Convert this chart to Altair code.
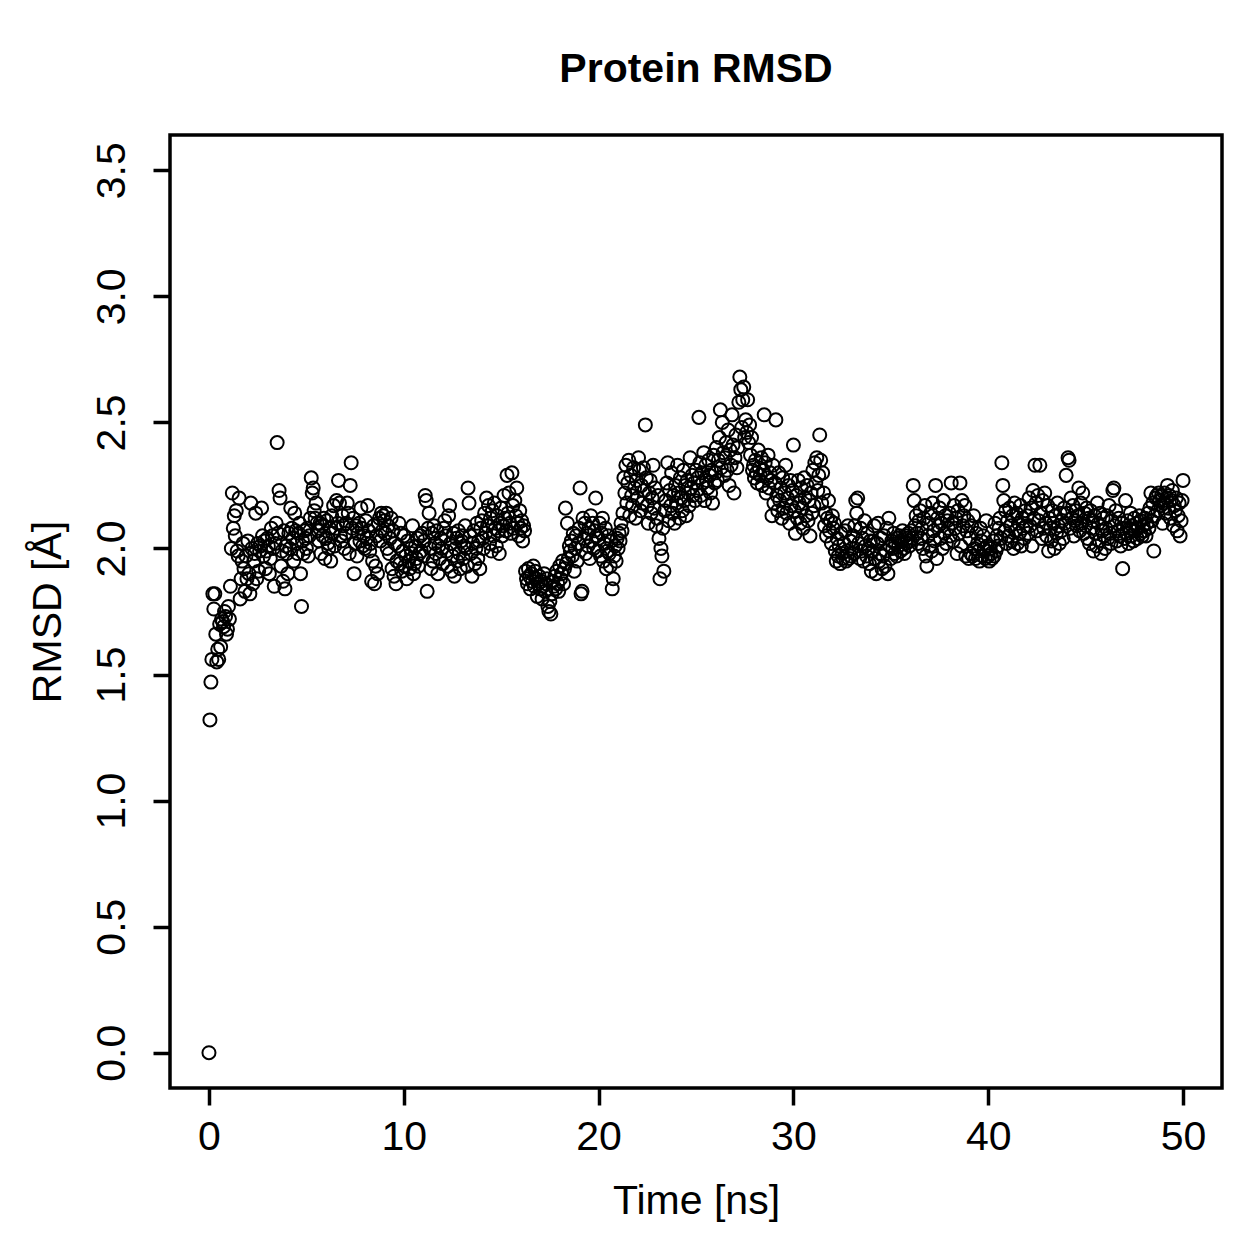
import altair as alt
import pandas as pd

# Trajectory frames are written every 0.05 ns
FRAME_NS = 0.05

# Backbone RMSD (Å), one row per nanosecond (20 frames each)
rmsd_00_10 = [
    0.00, 1.32, 1.47, 1.56, 1.82, 1.76, 1.82, 1.66, 1.55, 1.60, 1.56, 1.70, 1.61, 1.72, 1.71, 1.69, 1.75, 1.73, 1.66, 1.68,
    1.77, 1.72, 1.85, 2.00, 2.22, 2.08, 2.13, 2.05, 2.15, 1.99, 1.97, 2.20, 1.80, 1.88, 1.95, 2.02, 1.92, 1.83, 1.97, 1.88,
    2.03, 1.90, 1.82, 2.18, 2.00, 1.86, 1.95, 1.98, 2.14, 1.88, 2.02, 1.91, 1.99, 2.01, 2.16, 2.05, 1.97, 2.03, 1.92, 1.99,
    2.04, 2.01, 1.90, 1.96, 2.08, 2.05, 2.00, 1.85, 2.02, 2.10, 2.42, 2.06, 2.23, 2.20, 1.93, 1.99, 1.87, 2.07, 1.84, 2.01,
    1.98, 1.90, 2.06, 2.00, 2.16, 2.08, 2.04, 1.95, 2.14, 2.07, 2.02, 1.98, 2.06, 2.10, 1.90, 1.77, 2.03, 1.98, 2.07, 2.04,
    2.00, 2.08, 1.97, 2.05, 2.12, 2.28, 2.22, 2.24, 2.15, 2.12, 2.18, 2.10, 2.07, 2.03, 2.10, 1.98, 2.09, 2.05, 2.12, 1.96,
    2.04, 2.11, 2.02, 2.00, 2.08, 1.95, 2.13, 2.06, 2.17, 2.01, 2.08, 2.19, 2.10, 2.27, 2.18, 2.05, 2.03, 2.13, 2.09, 2.00,
    2.06, 2.10, 2.18, 2.14, 1.98, 2.25, 2.34, 2.08, 2.12, 1.90, 2.02, 2.09, 1.97, 2.06, 2.10, 2.03, 2.16, 2.08, 2.01, 2.05,
    2.00, 2.11, 2.04, 2.17, 2.07, 1.99, 2.02, 1.87, 1.95, 2.09, 1.86, 1.93, 2.05, 1.90, 2.10, 2.12, 2.03, 2.14, 2.07, 2.13,
    2.11, 2.06, 2.14, 2.00, 2.09, 1.98, 2.04, 2.12, 1.92, 2.07, 1.89, 2.02, 1.86, 1.95, 2.01, 2.10, 1.94, 2.06, 1.91, 1.99,
]
rmsd_10_20 = [
    2.05, 1.93, 1.97, 1.88, 2.03, 1.95, 1.92, 2.00, 1.98, 2.09, 1.90, 1.94, 2.01, 1.96, 2.04, 1.93, 1.98, 2.05, 1.99, 2.06,
    1.97, 2.03, 2.21, 2.19, 1.83, 2.08, 2.14, 2.00, 1.92, 2.06, 1.95, 2.09, 2.02, 1.98, 2.07, 1.90, 2.01, 1.96, 2.04, 2.00,
    1.94, 2.08, 2.11, 2.05, 1.99, 1.93, 2.13, 2.17, 2.02, 1.91, 1.97, 2.06, 1.89, 2.00, 2.04, 1.95, 2.07, 1.98, 1.92, 2.03,
    2.05, 1.96, 2.01, 2.09, 2.00, 1.93, 2.24, 2.18, 2.05, 1.98, 1.89, 2.02, 2.07, 1.94, 2.00, 2.10, 1.96, 2.03, 1.92, 2.08,
    2.11, 2.04, 2.00, 2.14, 2.06, 2.20, 2.09, 2.17, 2.02, 2.12, 1.99, 2.15, 2.05, 2.18, 2.08, 2.01, 2.13, 2.07, 1.98, 2.10,
    2.16, 2.05, 2.09, 2.21, 2.12, 2.07, 2.29, 2.14, 2.22, 2.10, 2.06, 2.30, 2.17, 2.08, 2.19, 2.13, 2.24, 2.10, 2.05, 2.15,
    2.08, 2.11, 2.03, 2.09, 2.07, 1.91, 1.88, 1.86, 1.92, 1.89, 1.84, 1.90, 1.87, 1.93, 1.85, 1.91, 1.88, 1.81, 1.86, 1.89,
    1.84, 1.87, 1.80, 1.85, 1.90, 1.83, 1.86, 1.88, 1.77, 1.75, 1.79, 1.74, 1.82, 1.87, 1.85, 1.89, 1.84, 1.91, 1.86, 1.83,
    1.93, 1.88, 1.90, 1.95, 1.86, 1.92, 2.16, 1.94, 2.10, 1.96, 2.01, 1.99, 2.03, 1.97, 2.06, 1.91, 2.00, 2.05, 1.95, 2.02,
    2.08, 2.24, 1.82, 1.83, 2.12, 2.04, 2.10, 1.98, 2.06, 2.01, 2.08, 1.96, 2.13, 2.03, 2.10, 2.00, 2.07, 2.20, 2.05, 1.99,
]
rmsd_20_30 = [
    2.04, 2.10, 1.97, 2.06, 2.12, 1.95, 2.02, 2.08, 1.92, 1.99, 2.05, 1.98, 1.93, 2.03, 1.84, 1.88, 1.97, 2.01, 1.95, 2.04,
    2.00, 2.06, 2.03, 2.10, 2.07, 2.14, 2.28, 2.22, 2.33, 2.18, 2.26, 2.35, 2.13, 2.29, 2.21, 2.17, 2.32, 2.24, 2.12, 2.27,
    2.20, 2.36, 2.31, 2.15, 2.25, 2.18, 2.32, 2.23, 2.49, 2.28, 2.17, 2.10, 2.22, 2.27, 2.14, 2.20, 2.33, 2.16, 2.24, 2.09,
    2.12, 2.21, 2.04, 1.88, 2.00, 1.97, 2.08, 1.91, 2.15, 2.19, 2.26, 2.34, 2.11, 2.23, 2.17, 2.30, 2.14, 2.21, 2.10, 2.25,
    2.18, 2.33, 2.22, 2.12, 2.28, 2.20, 2.15, 2.31, 2.19, 2.25, 2.13, 2.27, 2.22, 2.17, 2.36, 2.24, 2.29, 2.21, 2.26, 2.19,
    2.31, 2.23, 2.28, 2.52, 2.34, 2.21, 2.30, 2.26, 2.38, 2.19, 2.33, 2.27, 2.24, 2.35, 2.29, 2.22, 2.31, 2.18, 2.37, 2.26,
    2.30, 2.40, 2.27, 2.35, 2.44, 2.55, 2.32, 2.50, 2.38, 2.29, 2.36, 2.42, 2.31, 2.47, 2.25, 2.39, 2.33, 2.53, 2.41, 2.22,
    2.36, 2.45, 2.32, 2.40, 2.58, 2.68, 2.63, 2.48, 2.59, 2.64, 2.44, 2.51, 2.46, 2.59, 2.42, 2.49, 2.37, 2.44, 2.31, 2.33,
    2.28, 2.35, 2.30, 2.26, 2.39, 2.32, 2.29, 2.36, 2.25, 2.31, 2.53, 2.34, 2.22, 2.28, 2.37, 2.24, 2.30, 2.27, 2.13, 2.33,
    2.18, 2.26, 2.51, 2.21, 2.15, 2.30, 2.19, 2.24, 2.12, 2.28, 2.16, 2.22, 2.33, 2.14, 2.20, 2.25, 2.10, 2.27, 2.17, 2.23,
]
rmsd_30_40 = [
    2.41, 2.15, 2.06, 2.21, 2.12, 2.27, 2.18, 2.10, 2.24, 2.16, 2.08, 2.28, 2.20, 2.13, 2.25, 2.11, 2.19, 2.05, 2.22, 2.14,
    2.31, 2.17, 2.34, 2.26, 2.36, 2.23, 2.29, 2.45, 2.35, 2.18, 2.30, 2.22, 2.09, 2.14, 2.05, 2.12, 2.19, 2.07, 2.11, 2.02,
    2.13, 2.08, 2.10, 1.99, 1.95, 2.04, 1.97, 2.01, 1.94, 2.06, 1.98, 1.96, 2.02, 2.07, 1.95, 1.99, 2.09, 1.96, 2.03, 1.97,
    2.00, 2.05, 1.98, 2.09, 2.19, 2.14, 2.20, 2.02, 1.96, 2.08, 1.99, 2.04, 1.95, 2.11, 2.01, 1.97, 2.06, 2.00, 1.94, 2.03,
    1.91, 1.99, 2.03, 2.09, 1.96, 1.90, 2.02, 2.10, 1.95, 1.98, 2.04, 1.92, 1.97, 2.05, 1.93, 1.99, 2.08, 1.90, 2.12, 2.01,
    1.96, 2.03, 2.00, 2.06, 1.98, 2.02, 1.97, 2.04, 2.01, 2.05, 1.99, 2.03, 2.07, 2.00, 1.98, 2.05, 2.02, 2.04, 2.06, 2.01,
    2.03, 2.07, 2.04, 2.25, 2.19, 2.09, 2.13, 2.06, 2.02, 2.11, 2.15, 2.04, 2.08, 2.00, 2.12, 2.17, 1.97, 1.93, 2.05, 2.10,
    2.01, 2.14, 1.99, 2.18, 2.07, 2.03, 2.25, 1.96, 2.12, 2.09, 2.16, 2.04, 2.10, 2.00, 2.19, 2.06, 2.13, 2.02, 2.11, 2.08,
    2.14, 2.05, 2.26, 2.10, 2.03, 2.17, 2.08, 2.12, 1.98, 2.15, 2.06, 2.26, 2.01, 2.19, 2.09, 2.13, 2.17, 1.97, 2.07, 2.11,
    1.96, 2.04, 1.98, 2.09, 1.97, 2.13, 2.00, 1.96, 2.06, 2.02, 1.99, 1.95, 2.08, 2.03, 1.97, 2.05, 2.00, 1.96, 2.11, 2.01,
]
rmsd_40_50 = [
    1.97, 1.95, 2.00, 1.98, 1.96, 2.03, 1.97, 2.10, 1.99, 2.05, 2.01, 2.08, 2.12, 2.04, 2.34, 2.25, 2.19, 2.07, 2.15, 2.02,
    2.11, 2.05, 2.16, 2.09, 2.03, 2.13, 2.00, 2.18, 2.07, 2.14, 2.02, 2.10, 2.06, 2.17, 2.01, 2.12, 2.08, 2.04, 2.15, 2.09,
    2.13, 2.06, 2.20, 2.09, 2.16, 2.01, 2.23, 2.12, 2.33, 2.18, 2.07, 2.21, 2.11, 2.33, 2.14, 2.04, 2.19, 2.08, 2.22, 2.10,
    2.05, 2.17, 1.99, 2.12, 2.08, 2.03, 2.15, 2.10, 2.00, 2.13, 2.06, 2.18, 2.09, 2.02, 2.14, 2.07, 2.11, 2.04, 2.16, 2.10,
    2.29, 2.14, 2.36, 2.35, 2.08, 2.20, 2.12, 2.17, 2.05, 2.11, 2.15, 2.09, 2.13, 2.24, 2.07, 2.18, 2.10, 2.22, 2.06, 2.14,
    2.09, 2.16, 2.04, 2.12, 2.02, 2.15, 2.08, 2.11, 1.99, 2.13, 2.06, 2.01, 2.18, 2.10, 2.03, 2.14, 1.98, 2.07, 2.12, 2.05,
    2.00, 2.08, 2.13, 2.04, 2.17, 2.06, 2.02, 2.11, 2.23, 2.24, 2.09, 2.15, 2.03, 2.07, 2.12, 2.05, 2.01, 2.10, 1.92, 2.08,
    2.04, 2.19, 2.06, 2.11, 2.02, 2.08, 2.14, 2.05, 2.09, 2.03, 2.12, 2.07, 2.10, 2.04, 2.08, 2.13, 2.06, 2.11, 2.05, 2.09,
    2.07, 2.12, 2.05, 2.10, 2.14, 2.08, 2.16, 2.22, 2.11, 2.18, 1.99, 2.13, 2.20, 2.21, 2.15, 2.22, 2.19, 2.17, 2.21, 2.10,
    2.18, 2.22, 2.14, 2.20, 2.25, 2.16, 2.21, 2.12, 2.19, 2.23, 2.09, 2.17, 2.15, 2.20, 2.07, 2.13, 2.18, 2.05, 2.11, 2.19,
]
rmsd_last = [2.27]

x_ticks = [0, 10, 20, 30, 40, 50]
y_ticks = [0.0, 0.5, 1.0, 1.5, 2.0, 2.5, 3.0, 3.5]

rmsd = rmsd_00_10 + rmsd_10_20 + rmsd_20_30 + rmsd_30_40 + rmsd_40_50 + rmsd_last
time_ns = [round(i * FRAME_NS, 2) for i in range(len(rmsd))]
df = pd.DataFrame({"time": time_ns, "rmsd": rmsd})

FONT = "Liberation Sans"
FS = 41

x_axis = alt.Axis(
    values=x_ticks, format="d", title="Time [ns]", grid=False, domain=False,
    tickSize=17, tickWidth=3.5, tickColor="black",
    labelFont=FONT, labelFontSize=FS, labelColor="black", labelPadding=12,
    labelFlush=False, labelOverlap=False,
    titleFont=FONT, titleFontSize=FS, titleFontWeight="normal", titleColor="black",
    titlePadding=24,
)
y_axis = alt.Axis(
    values=y_ticks, format=".1f", title="RMSD [Å]", grid=False, domain=False,
    tickSize=17, tickWidth=3.5, tickColor="black",
    labelFont=FONT, labelFontSize=FS, labelColor="black", labelPadding=20,
    labelAngle=270, labelAlign="center", labelBaseline="bottom",
    labelFlush=False, labelOverlap=False,
    titleFont=FONT, titleFontSize=FS, titleFontWeight="normal", titleColor="black",
    titlePadding=22,
)

chart = (
    alt.Chart(df)
    .mark_point(shape="circle", filled=False, size=170, strokeWidth=2,
                color="black", opacity=1)
    .encode(
        x=alt.X("time:Q", scale=alt.Scale(domain=[-2, 52], nice=False, zero=False), axis=x_axis),
        y=alt.Y("rmsd:Q", scale=alt.Scale(domain=[-0.14, 3.64], nice=False, zero=False), axis=y_axis),
    )
    .properties(
        width=1052,
        height=953,
        autosize="none",
        padding={"left": 170, "top": 135, "right": 37, "bottom": 171},
        background="white",
        title=alt.TitleParams(
            "Protein RMSD", font=FONT, fontSize=FS, fontWeight="bold", color="black",
            anchor="middle", baseline="alphabetic", offset=12,
        ),
    )
    .configure_view(stroke="black", strokeWidth=3.5)
)

chart.save("out.html", embed_options={"renderer": "svg", "actions": False})
